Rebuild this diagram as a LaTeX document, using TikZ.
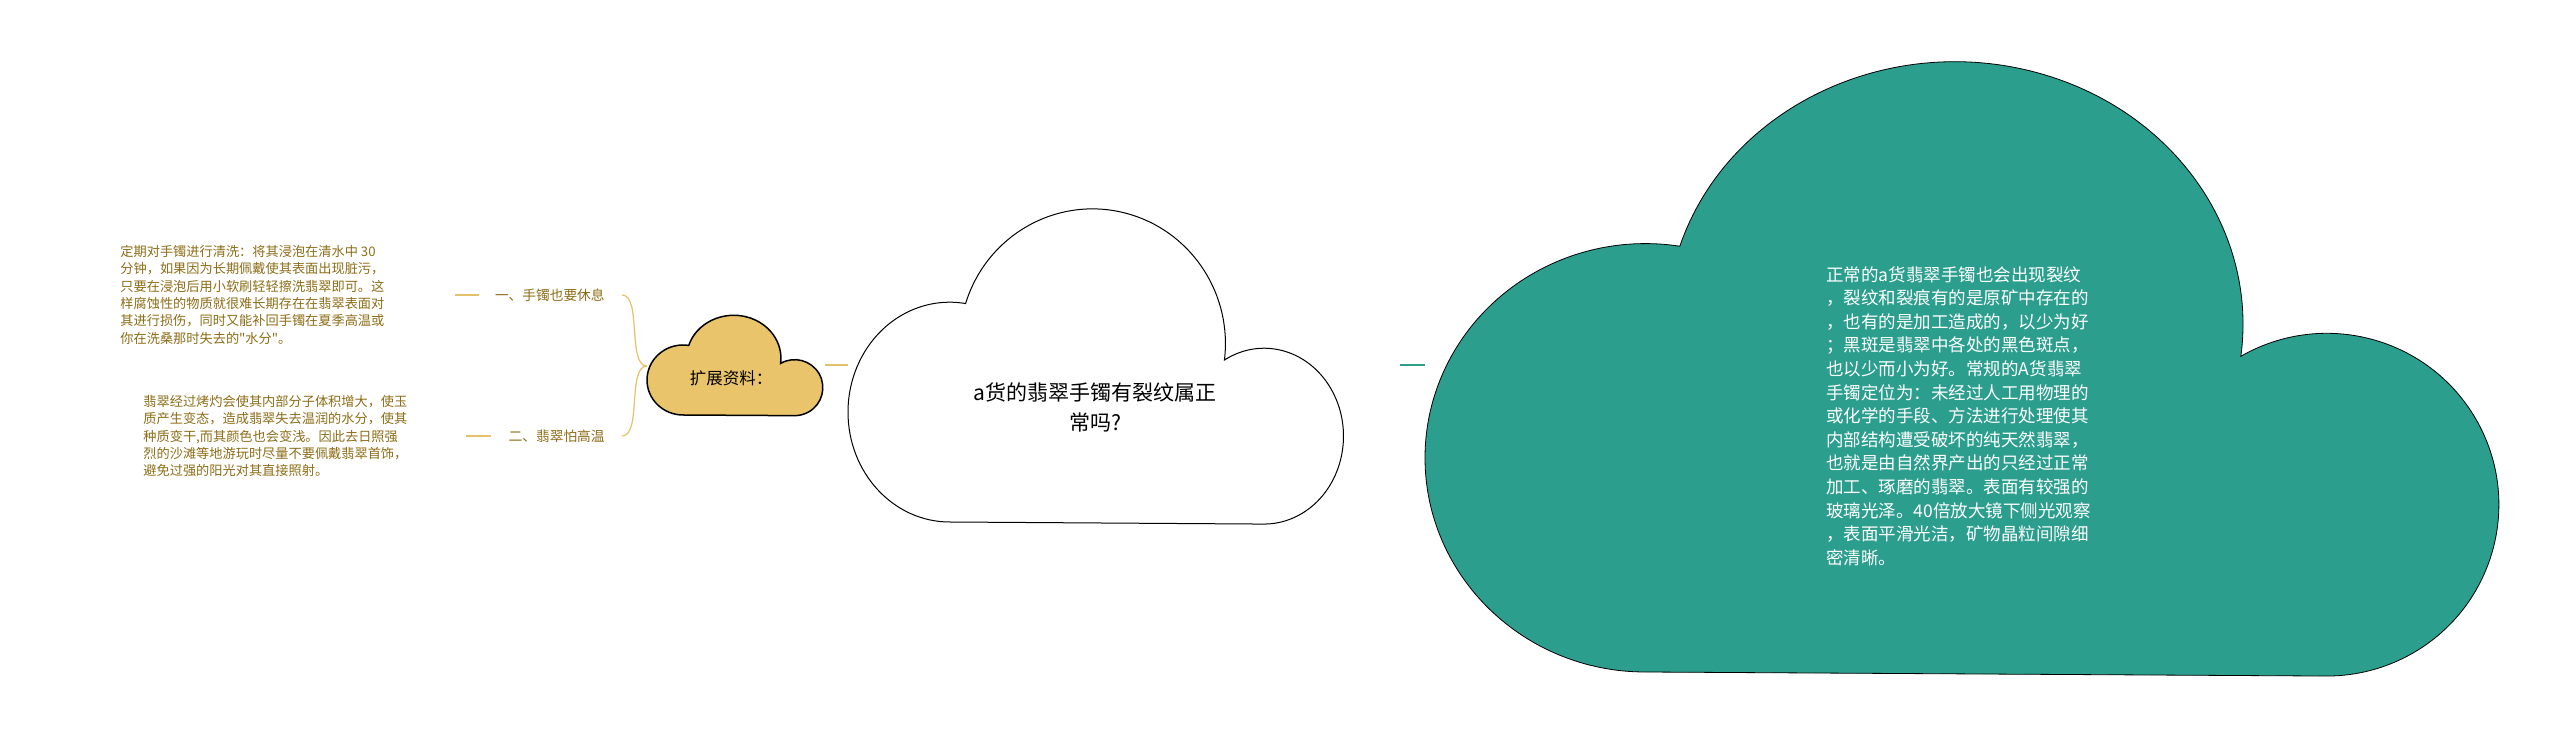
\documentclass[tikz,border=0pt]{standalone}
\usepackage{fontspec}
\usepackage{tikz}
\newfontfamily\cjk{Noto Sans CJK SC}
\definecolor{goldtext}{RGB}{140,108,22}
\definecolor{goldline}{RGB}{229,193,106}
\definecolor{goldfill}{RGB}{233,196,106}
\definecolor{tealfill}{RGB}{43,158,142}

\begin{document}
\begin{tikzpicture}[x=0.5pt, y=-0.5pt, % one unit = one pixel of the reference
		leaftext/.style={font=\cjk\fontsize{6.6}{8.65}\selectfont, text=goldtext, align=left, inner sep=0pt, anchor=north west},
		branchlabel/.style={font=\cjk\fontsize{6.85}{8.5}\selectfont, text=goldtext, inner sep=0pt, anchor=east},
		goldlink/.style={draw=goldline, line width=0.6pt},
		golddash/.style={draw=goldline, line width=0.9pt},
		tealdash/.style={draw=tealfill, line width=0.9pt}]
			\useasboundingbox (0,0) rectangle (2560,731);

			% Macro for drawing a cloud in a box.
			% Usage: \drawcloud{left}{top}{width}{height}{style}
			\newcommand{\drawcloud}[5]{
				\begin{scope}[shift={(#1,#2+#4)}, xscale=#3, yscale=-#4]
					\draw[#5] (0.205,0) arc[start angle=270, end angle=81, x radius=0.205, y radius=0.35]
						arc[start angle=162.7, end angle=-7, x radius=0.268, y radius=0.429]
						arc[start angle=120, end angle=-90, x radius=0.16, y radius=0.28] -- cycle;
				\end{scope}
			}

			% The three clouds
			\drawcloud{647}{315}{176}{100}{fill=goldfill, draw=black, line width=0.75pt};
			\drawcloud{848}{208}{496}{314}{fill=white, draw=black, line width=0.5pt};
			\drawcloud{1425}{60}{1075}{612}{fill=tealfill, draw=black, line width=0.4pt};

			% Cloud texts
			\node[font=\cjk\fontsize{8.25}{10}\selectfont, inner sep=0pt] (extra) at (731,378) {扩展资料：};
			\node[font=\cjk\fontsize{10.5}{15}\selectfont, align=center, inner sep=0pt] (topic) at (1095,407) {a货的翡翠手镯有裂纹属正\\常吗?};
			\node[font=\cjk\fontsize{8.75}{11.8}\selectfont, text=white, align=left, inner sep=0pt, anchor=north west] (answer) at (1826,266)
				{正常的a货翡翠手镯也会出现裂纹\\，裂纹和裂痕有的是原矿中存在的\\，也有的是加工造成的，以少为好\\；黑斑是翡翠中各处的黑色斑点，\\也以少而小为好。常规的A货翡翠\\手镯定位为：未经过人工用物理的\\或化学的手段、方法进行处理使其\\内部结构遭受破坏的纯天然翡翠，\\也就是由自然界产出的只经过正常\\加工、琢磨的翡翠。表面有较强的\\玻璃光泽。40倍放大镜下侧光观察\\，表面平滑光洁，矿物晶粒间隙细\\密清晰。};

			% Branch labels and their notes
			\node[branchlabel] (rest) at (605,295) {一、手镯也要休息};
			\node[branchlabel] (heat) at (605,436) {二、翡翠怕高温};
			\node[leaftext] (restnote) at (120,245)
				{定期对手镯进行清洗：将其浸泡在清水中 30\\分钟，如果因为长期佩戴使其表面出现脏污，\\只要在浸泡后用小软刷轻轻擦洗翡翠即可。这\\样腐蚀性的物质就很难长期存在在翡翠表面对\\其进行损伤，同时又能补回手镯在夏季高温或\\你在洗桑那时失去的"水分"。};
			\node[leaftext] (heatnote) at (143,395)
				{翡翠经过烤灼会使其内部分子体积增大，使玉\\质产生变态，造成翡翠失去温润的水分，使其\\种质变干,而其颜色也会变浅。因此去日照强\\烈的沙滩等地游玩时尽量不要佩戴翡翠首饰，\\避免过强的阳光对其直接照射。};

			% Connectors
			\coordinate (extraleft) at (647,366);
			\draw[goldlink] (extraleft) .. controls +(-20,0) and +(20,0) .. ([xshift=8.5pt]rest.east);
			\draw[goldlink] (extraleft) .. controls +(-20,0) and +(20,0) .. ([xshift=8.5pt]heat.east);
			\draw[golddash] ([xshift=-8pt]rest.west) -- ([xshift=-20pt]rest.west);
			\draw[golddash] ([xshift=-8.5pt]heat.west) -- ([xshift=-21pt]heat.west);
			\coordinate (extraright) at (825,365);
			\coordinate (topicleft) at (848,365);
			\draw[golddash] (extraright) -- (topicleft);
			\coordinate (topicright) at (1400,365);
			\coordinate (answerleft) at (1425,365);
			\draw[tealdash] (topicright) -- (answerleft);
		\end{tikzpicture}
\end{document}
